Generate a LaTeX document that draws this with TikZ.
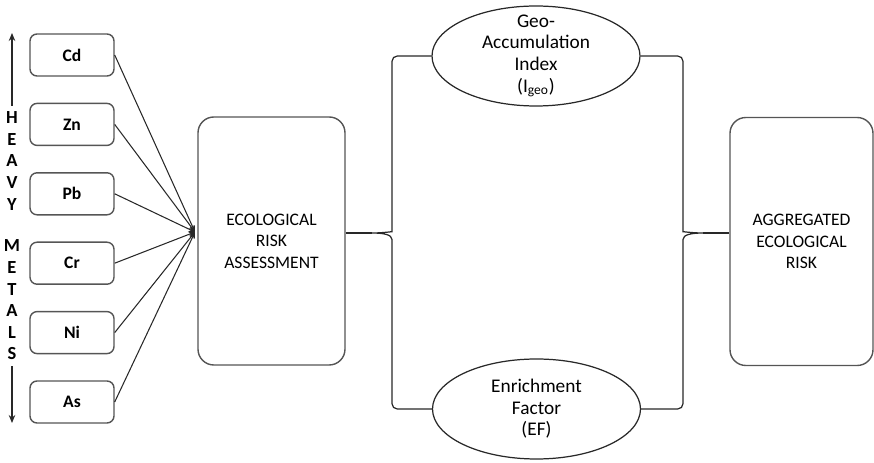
\documentclass[tikz,border=0pt]{standalone}
\usepackage{fontspec}
\setmainfont{Carlito}
\usetikzlibrary{arrows.meta,positioning,calc,shapes.geometric}
\definecolor{edgegray}{RGB}{85,85,85}
\definecolor{linegray}{RGB}{40,40,40}
\tikzset{
  metbox/.style={draw=edgegray, line width=0.8pt, rounded corners=4pt,
              minimum width=1.68cm, minimum height=0.84cm,
              font=\fontsize{10}{12}\selectfont\bfseries},
  bigbox/.style={draw=edgegray, line width=0.8pt, rounded corners=9pt,
              minimum height=4.96cm, align=center,
              font=\fontsize{10}{12.3}\selectfont},
  oval/.style={ellipse, draw=linegray, line width=0.7pt,
              minimum width=4.16cm, minimum height=2.0cm, inner sep=0pt},
  ovaltxt/.style={align=center, font=\fontsize{11}{12.3}\selectfont},
  feed/.style={-{Stealth[length=1.3mm,width=1.1mm]}, linegray, line width=0.6pt},
  link/.style={linegray, line width=0.7pt},
  vlab/.style={align=center, font=\fontsize{10.5}{12.3}\selectfont\bfseries},
  side/.style={-{Stealth[length=1.6mm,width=1.3mm]}, linegray, line width=0.8pt},
}

\begin{document}
\begin{tikzpicture}
  \useasboundingbox (0,0) rectangle (17.48,9.26);
  % metals column
  \foreach \m [count=\i] in {Cd,Zn,Pb,Cr,Ni,As}
    \node[metbox] (m\i) at (1.44,{8.16-1.388*(\i-1)}) {\m};
  \node[vlab] (heavy) at (0.24,6.04) {H\\E\\A\\V\\Y};
  \node[vlab] (metals) at (0.24,3.26) {M\\E\\T\\A\\L\\S};
  \coordinate (uptip) at (0.24,8.60);
  \coordinate (downtip) at (0.24,0.80);
  \draw[side] (heavy.north) -- (uptip);
  \draw[side] (metals.south) -- (downtip);

  % assessment and result
  \node[bigbox, minimum width=2.94cm] (era) at (5.43,4.44)
       {ECOLOGICAL\\RISK\\ASSESSMENT};
  \node[bigbox, minimum width=2.86cm] (aer) at (16.03,4.43)
       {AGGREGATED\\ECOLOGICAL\\RISK};
  \coordinate (hub) at (3.90,4.62);
  \foreach \i in {1,...,6}
    \draw[feed] (m\i.east) -- (hub);

  % indices
  \node[oval] (geo) at (10.72,8.14) {};
  \node[ovaltxt] (geotext) at (geo.center)
       {Geo-\\Accumulation\\Index\\(I\textsubscript{geo})};
  \node[oval] (ef) at (10.73,1.08) {};
  \node[ovaltxt] (eftext) at (ef.center) {Enrichment\\Factor\\(EF)};

  % braces
  \coordinate (ltip) at (7.44,4.60);
  \coordinate (rtip) at (14.06,4.60);
  \draw[link] (era.east |- ltip) -- (ltip);
  \draw[link] (rtip) -- (aer.west |- rtip);
  \draw[link, rounded corners=3pt] (geo.west) -| (7.84,4.73) [sharp corners]
    .. controls (7.84,4.63) and (7.66,4.60) .. (ltip)
    .. controls (7.66,4.60) and (7.84,4.57) .. (7.84,4.47)
    [rounded corners=3pt] |- (ef.west);
  \draw[link, rounded corners=3pt] (geo.east) -| (13.66,4.73) [sharp corners]
    .. controls (13.66,4.63) and (13.84,4.60) .. (rtip)
    .. controls (13.84,4.60) and (13.66,4.57) .. (13.66,4.47)
    [rounded corners=3pt] |- (ef.east);
\end{tikzpicture}
\end{document}
